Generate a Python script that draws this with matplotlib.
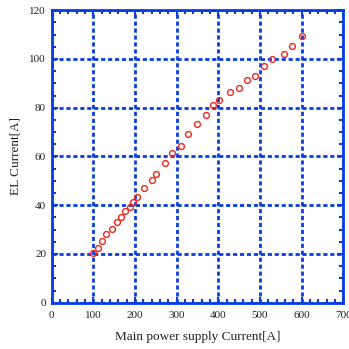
import matplotlib
matplotlib.use("Agg")
import matplotlib.pyplot as plt
from matplotlib.ticker import MultipleLocator

main_current = [100, 112, 121, 130.5, 145, 157.6, 166.5, 176, 187.3, 196, 205.6,
                221, 241.6, 250.5, 272, 289.6, 310.5, 328, 348.8, 369.6, 388,
                400.8, 428, 448.8, 469.6, 488, 508.8, 529.6, 556.8, 577.6, 600]
el_current = [20.4, 22.3, 25.4, 28.2, 30.1, 33.2, 35.1, 37.5, 39.2, 41.2, 43.3,
              47.2, 50.3, 53.0, 57.2, 61.4, 64.1, 69.2, 73.3, 77.0, 81.2,
              83.1, 86.3, 88.0, 91.3, 93.2, 97.3, 100.0, 102.0, 105.2, 109.3]

blue = "#0a3de0"
plt.rcParams['font.family'] = ['Liberation Serif', 'DejaVu Serif']

fig = plt.figure(figsize=(3.49, 3.49), dpi=100)
ax = fig.add_axes([0.148, 0.1327, 0.836, 0.838])

ax.plot(main_current, el_current, linestyle='none', marker='o', markersize=4.2,
        markerfacecolor='none', markeredgecolor='#e8281e', markeredgewidth=1.0, zorder=3)

ax.set_xlim(0, 700)
ax.set_ylim(0, 120)
ax.xaxis.set_major_locator(MultipleLocator(100))
ax.xaxis.set_minor_locator(MultipleLocator(20))
ax.yaxis.set_major_locator(MultipleLocator(20))
ax.yaxis.set_minor_locator(MultipleLocator(5))

ax.grid(True, which='major', color=blue, linestyle=(0, (1.5, 1.0)), linewidth=2.0)
for s in ax.spines.values():
    s.set_color(blue)
    s.set_linewidth(2.0)
ax.tick_params(which='both', direction='in', top=True, right=True, color=blue,
               labelsize=8, labelcolor='#222222')
ax.tick_params(which='major', length=4, width=1.5, pad=4)
ax.tick_params(axis='x', which='major', pad=6)
ax.tick_params(which='minor', length=3, width=1.5)

ax.set_xlabel('Main power supply Current[A]', fontsize=9.5, color='#222222', labelpad=8)
ax.set_ylabel('EL Current[A]', fontsize=9.5, color='#222222', labelpad=6)

fig.savefig('out.png', dpi=100)
